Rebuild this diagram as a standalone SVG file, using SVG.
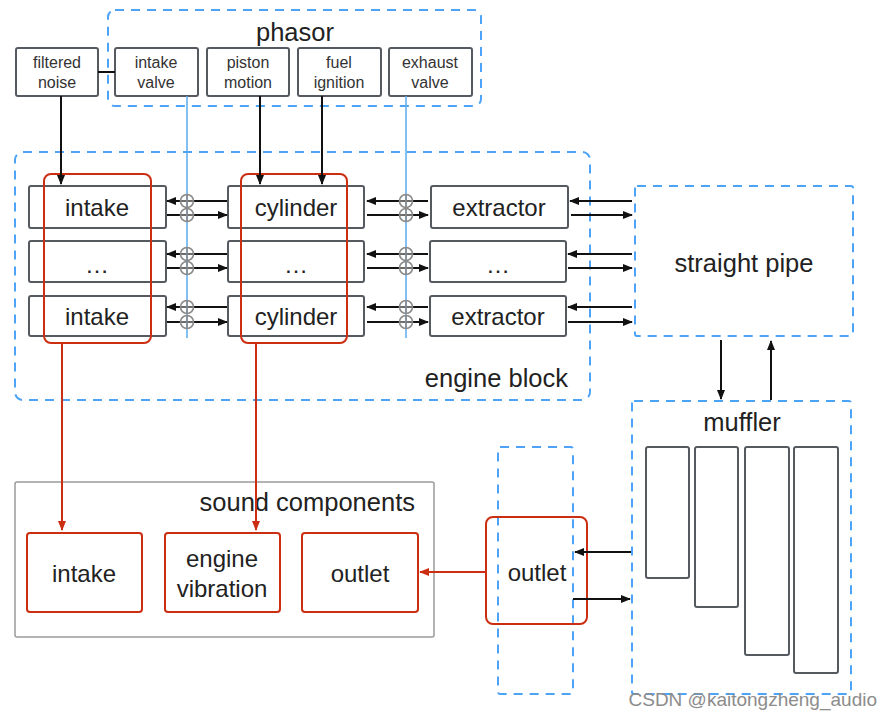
<svg xmlns="http://www.w3.org/2000/svg" width="892" height="720" viewBox="0 0 892 720">
<defs>
<style>
text{font-family:"Liberation Sans",Arial,sans-serif;fill:#222}
.dash{fill:none;stroke:#4da3f5;stroke-width:2;stroke-dasharray:9 7}
.box{fill:#fff;stroke:#555a60;stroke-width:2}
.red{fill:none;stroke:#cc2e12;stroke-width:2}
.redf{fill:#fff;stroke:#cc2e12;stroke-width:2}
.gray{fill:none;stroke:#9a9a9a;stroke-width:1.5}
.blue{stroke:#5aaaf0;stroke-width:1.5;fill:none}
.blk{stroke:#111;stroke-width:2;fill:none}
.ar{stroke:#111;stroke-width:2;fill:none;marker-end:url(#ah)}
.rar{stroke:#cc2e12;stroke-width:2;fill:none;marker-end:url(#rah)}
.sm{font-size:16px;text-anchor:middle;fill:#333}
.md{font-size:24px;text-anchor:middle}
.lg{font-size:25.5px}
.cir{fill:none;stroke:#8a8a8a;stroke-width:1.6}
</style>
<marker id="ah" markerUnits="userSpaceOnUse" markerWidth="10" markerHeight="8" refX="9" refY="4" orient="auto"><path d="M0,0 L10,4 L0,8 z" fill="#111"/></marker>
<marker id="rah" markerUnits="userSpaceOnUse" markerWidth="10" markerHeight="8" refX="9" refY="4" orient="auto"><path d="M0,0 L10,4 L0,8 z" fill="#cc2e12"/></marker>
<g id="oplus"><circle r="6.5" class="cir"/><path d="M-6.5,0 H6.5 M0,-6.5 V6.5" class="cir"/></g>
</defs>
<rect width="892" height="720" fill="#fff"/>

<!-- containers -->
<g id="phasor">
<rect class="dash" x="108" y="10" width="373" height="96" rx="7"/>
<text class="lg" x="295" y="41" text-anchor="middle">phasor</text>
</g>
<g id="engine-block">
<rect class="dash" x="15" y="152" width="575" height="248" rx="8"/>
<text class="lg" x="568" y="387" text-anchor="end">engine block</text>
</g>
<g id="straight-pipe">
<rect class="dash" x="635" y="186" width="218" height="150" rx="2"/>
<text class="lg" x="744" y="272" text-anchor="middle">straight pipe</text>
</g>
<g id="muffler">
<rect class="dash" x="632" y="401" width="219" height="293" rx="2"/>
<text class="lg" x="742" y="431" text-anchor="middle">muffler</text>
<rect class="box" x="646" y="447" width="43" height="131" rx="2"/>
<rect class="box" x="695" y="447" width="43" height="160" rx="2"/>
<rect class="box" x="745" y="447" width="44" height="208" rx="2"/>
<rect class="box" x="794" y="447" width="44" height="226" rx="2"/>
</g>
<g id="outlet-pipe">
<rect class="dash" x="498" y="447" width="75" height="247" rx="2"/>
</g>
<g id="sound-components">
<rect class="gray" x="15" y="482" width="419" height="155" rx="2"/>
<text class="lg" x="415" y="511" text-anchor="end">sound components</text>
</g>

<!-- phasor nodes -->
<g id="filtered-noise"><rect class="box" x="16" y="48" width="82" height="48" rx="2"/><text class="sm" x="57" y="68">filtered</text><text class="sm" x="57" y="88">noise</text></g>
<g id="intake-valve"><rect class="box" x="115" y="48" width="83" height="48" rx="2"/><text class="sm" x="156" y="68">intake</text><text class="sm" x="156" y="88">valve</text></g>
<g id="piston-motion"><rect class="box" x="207" y="48" width="82" height="48" rx="2"/><text class="sm" x="248" y="68">piston</text><text class="sm" x="248" y="88">motion</text></g>
<g id="fuel-ignition"><rect class="box" x="298" y="48" width="83" height="48" rx="2"/><text class="sm" x="339" y="68">fuel</text><text class="sm" x="339" y="88">ignition</text></g>
<g id="exhaust-valve"><rect class="box" x="389" y="48" width="83" height="48" rx="2"/><text class="sm" x="430" y="68">exhaust</text><text class="sm" x="430" y="88">valve</text></g>

<!-- engine rows -->
<g id="intake-1"><rect class="box" x="29" y="186" width="137" height="42" rx="2"/><text class="md" x="97" y="216">intake</text></g>
<g id="intake-2"><rect class="box" x="29" y="241" width="137" height="41" rx="2"/><text class="md" x="97" y="273">…</text></g>
<g id="intake-3"><rect class="box" x="29" y="296" width="137" height="40" rx="2"/><text class="md" x="97" y="325">intake</text></g>
<g id="cylinder-1"><rect class="box" x="228" y="186" width="136" height="42" rx="2"/><text class="md" x="296" y="216">cylinder</text></g>
<g id="cylinder-2"><rect class="box" x="228" y="241" width="136" height="41" rx="2"/><text class="md" x="296" y="273">…</text></g>
<g id="cylinder-3"><rect class="box" x="228" y="296" width="136" height="40" rx="2"/><text class="md" x="296" y="325">cylinder</text></g>
<g id="extractor-1"><rect class="box" x="431" y="186" width="137" height="42" rx="2"/><text class="md" x="499" y="216">extractor</text></g>
<g id="extractor-2"><rect class="box" x="430" y="241" width="136" height="41" rx="2"/><text class="md" x="498" y="273">…</text></g>
<g id="extractor-3"><rect class="box" x="430" y="296" width="136" height="40" rx="2"/><text class="md" x="498" y="325">extractor</text></g>

<g id="intake-group"><rect class="red" x="44" y="174" width="107" height="169" rx="7"/></g>
<g id="cylinder-group"><rect class="red" x="241" y="174" width="106" height="169" rx="7"/></g>

<!-- sound components -->
<g id="sc-intake"><rect class="redf" x="27" y="533" width="115" height="79" rx="3"/><text class="md" x="84" y="582">intake</text></g>
<g id="sc-engine-vibration"><rect class="redf" x="165" y="533" width="115" height="79" rx="3"/><text class="md" x="222" y="567">engine</text><text class="md" x="222" y="597">vibration</text></g>
<g id="sc-outlet"><rect class="redf" x="302" y="533" width="116" height="79" rx="3"/><text class="md" x="360" y="582">outlet</text></g>
<g id="outlet"><rect class="red" x="486" y="517" width="101" height="107" rx="7"/><text class="md" x="537" y="581">outlet</text></g>

<!-- connectors -->
<g id="connectors">
<path class="blk" d="M98,72 H115"/>
<path class="blue" d="M187,96 V338 M406,96 V338"/>
<path class="ar" d="M61,96 V184"/>
<path class="ar" d="M260,96 V184"/>
<path class="ar" d="M322,96 V184"/>

<path class="ar" d="M227,201 H167"/><path class="ar" d="M167,215 H227"/>
<path class="ar" d="M227,254 H167"/><path class="ar" d="M167,268 H227"/>
<path class="ar" d="M227,307 H167"/><path class="ar" d="M167,322 H227"/>

<path class="ar" d="M428,201 H367"/><path class="ar" d="M367,215 H428"/>
<path class="ar" d="M428,254 H367"/><path class="ar" d="M367,268 H428"/>
<path class="ar" d="M428,307 H367"/><path class="ar" d="M367,322 H428"/>

<path class="ar" d="M632,201 H570"/><path class="ar" d="M571,215 H632"/>
<path class="ar" d="M632,254 H568"/><path class="ar" d="M568,268 H632"/>
<path class="ar" d="M632,307 H568"/><path class="ar" d="M568,322 H632"/>

<use href="#oplus" x="187" y="201"/><use href="#oplus" x="187" y="215"/>
<use href="#oplus" x="187" y="254"/><use href="#oplus" x="187" y="268"/>
<use href="#oplus" x="187" y="307"/><use href="#oplus" x="187" y="322"/>
<use href="#oplus" x="406" y="201"/><use href="#oplus" x="406" y="215"/>
<use href="#oplus" x="406" y="254"/><use href="#oplus" x="406" y="268"/>
<use href="#oplus" x="406" y="307"/><use href="#oplus" x="406" y="322"/>

<path class="ar" d="M721,340 V399"/>
<path class="ar" d="M771,400 V341"/>

<path class="ar" d="M631,552 H575"/>
<path class="ar" d="M573,599 H630"/>

<path class="rar" d="M62,343 V530"/>
<path class="rar" d="M256,343 V530"/>
<path class="rar" d="M486,572 H420"/>
</g>

<text x="877" y="706" text-anchor="end" style="font-size:19px;fill:#8c8c8c">CSDN @kaitongzheng_audio</text>
</svg>
